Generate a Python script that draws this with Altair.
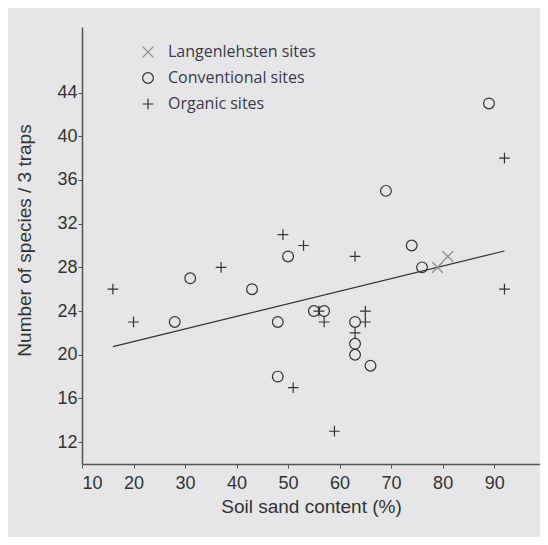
import altair as alt
import pandas as pd

groups = ["Langenlehsten sites", "Conventional sites", "Organic sites"]

org_x = [16, 20, 37, 49, 53, 63, 56, 57, 65, 65, 63, 51, 59, 92, 92]
org_y = [26, 23, 28, 31, 30, 29, 24, 23, 24, 23, 22, 17, 13, 38, 26]
conv_x = [28, 31, 43, 48, 50, 69, 74, 76, 55, 57, 63, 63, 63, 66, 48, 89]
conv_y = [23, 27, 26, 23, 29, 35, 30, 28, 24, 24, 23, 21, 20, 19, 18, 43]
lang_x = [81, 79]
lang_y = [29, 28]

fit_x = [16, 92]
fit_y = [20.75, 29.5]

x_ticks = [10, 20, 30, 40, 50, 60, 70, 80, 90]
y_ticks = [12, 16, 20, 24, 28, 32, 36, 40, 44]

rows = []
for xs, ys, g in [(lang_x, lang_y, groups[0]), (conv_x, conv_y, groups[1]), (org_x, org_y, groups[2])]:
    for a, b in zip(xs, ys):
        rows.append({"x": a, "y": b, "group": g})
df = pd.DataFrame(rows)
fit = pd.DataFrame({"x": fit_x, "y": fit_y})

CROSS = "M-1,-1L1,1M-1,1L1,-1"
CIRCLE = "M1,0A1,1,0,1,1,-1,0A1,1,0,1,1,1,0Z"
PLUS = "M-1,0L1,0M0,-1L0,1"

xscale = alt.Scale(domain=[10, 98.9], nice=False, zero=False)
yscale = alt.Scale(domain=[10, 50], nice=False, zero=False)
xaxis = alt.Axis(values=x_ticks, title="Soil sand content (%)", labelPadding=6, titlePadding=5)
yaxis = alt.Axis(values=y_ticks, title="Number of species / 3 traps", labelPadding=1,
                 titlePadding=22, titleY=213)

line = alt.Chart(fit).mark_line(color="#333333", strokeWidth=1.2).encode(
    x=alt.X("x:Q", scale=xscale, axis=xaxis),
    y=alt.Y("y:Q", scale=yscale, axis=yaxis),
)

points = alt.Chart(df).mark_point(filled=False, strokeWidth=1.2, opacity=1, size=115).encode(
    x=alt.X("x:Q", scale=xscale, axis=xaxis),
    y=alt.Y("y:Q", scale=yscale, axis=yaxis),
    shape=alt.Shape("group:N", scale=alt.Scale(domain=groups, range=[CROSS, CIRCLE, PLUS]),
                    legend=alt.Legend(title=None)),
    color=alt.Color("group:N", scale=alt.Scale(domain=groups, range=["#8a8a8a", "#333333", "#333333"]),
                    legend=alt.Legend(title=None)),
)

chart = alt.layer(line, points).properties(
    width=458,
    height=437,
    padding={"left": 74, "top": 19, "right": 0, "bottom": 73},
    autosize=alt.AutoSizeParams(type="none"),
    background="#e6e6e8",
).configure_view(stroke=None).configure_axis(
    grid=False,
    domainColor="#555555",
    domainWidth=1.5,
    tickColor="#555555",
    tickSize=4,
    labelFont="Liberation Sans",
    labelFontSize=18,
    labelColor="#333333",
    titleFont="Liberation Sans",
    titleFontSize=19,
    titleFontWeight="normal",
    titleColor="#333333",
).configure_legend(
    orient="none",
    legendX=58,
    legendY=17,
    padding=0,
    labelFont="Open Sans",
    labelFontSize=16,
    labelColor="#3a3a4a",
    rowPadding=10,
    symbolSize=115,
    symbolStrokeWidth=1.2,
    labelOffset=12,
)

chart.save("out.html", embed_options={"renderer": "svg", "actions": False})
